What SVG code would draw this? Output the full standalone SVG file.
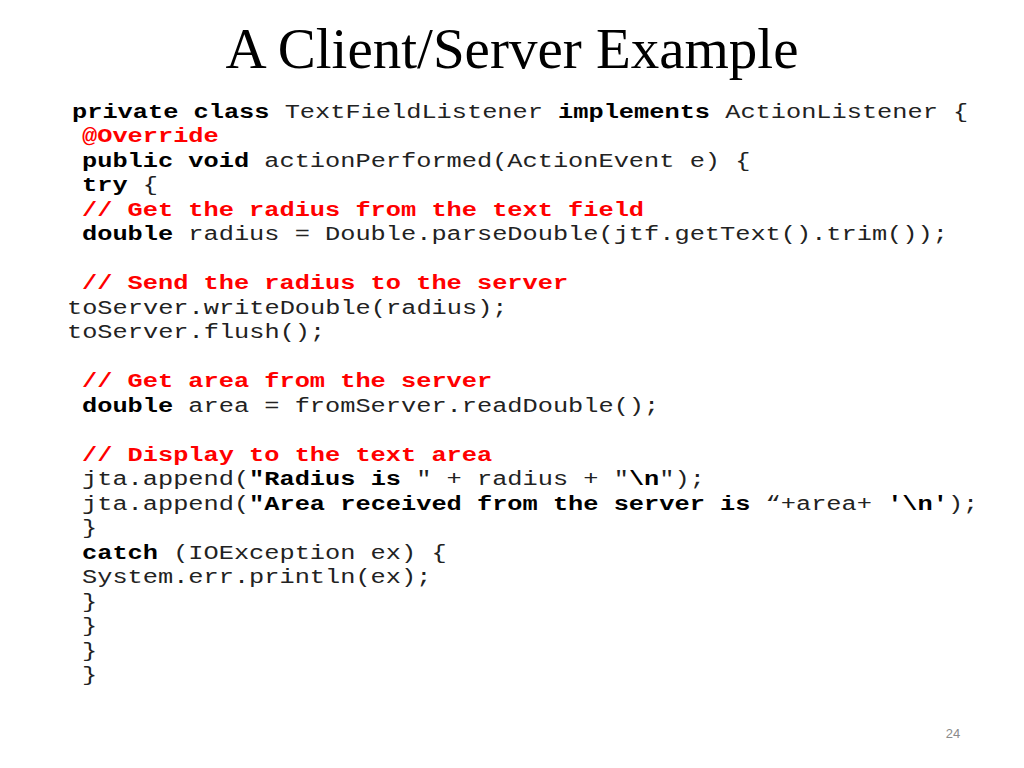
<svg xmlns="http://www.w3.org/2000/svg" width="1024" height="768" viewBox="0 0 1024 768">
<style>
.t{font-family:"Liberation Serif","Times New Roman",serif;font-size:57px;fill:#000}
.c{font-family:"Liberation Mono","Courier New",monospace;font-size:21px;fill:#222;white-space:pre}
.k{font-weight:bold;fill:#000}
.r{font-weight:bold;fill:#ff0000}
.pg{font-family:"Liberation Sans",Arial,sans-serif;font-size:13px;fill:#8a8a8a}
</style>
<rect width="1024" height="768" fill="#fff"/>
<g id="title"><text class="t" x="512" y="68" text-anchor="middle">A Client/Server Example</text></g>
<g id="code" xml:space="preserve" transform="scale(1.2063,1)">
<text class="c" x="59.69" y="118"><tspan class="k">private class</tspan> TextFieldListener <tspan class="k">implements</tspan> ActionListener {</text>
<text class="c" x="67.98" y="142.5"><tspan class="r">@Override</tspan></text>
<text class="c" x="67.98" y="167"><tspan class="k">public void</tspan> actionPerformed(ActionEvent e) {</text>
<text class="c" x="67.98" y="191.5"><tspan class="k">try</tspan> {</text>
<text class="c" x="67.98" y="216"><tspan class="r">// Get the radius from the text field</tspan></text>
<text class="c" x="67.98" y="240.5"><tspan class="k">double</tspan> radius = Double.parseDouble(jtf.getText().trim());</text>
<text class="c" x="67.98" y="289.5"><tspan class="r">// Send the radius to the server</tspan></text>
<text class="c" x="55.54" y="314">toServer.writeDouble(radius);</text>
<text class="c" x="55.54" y="338.5">toServer.flush();</text>
<text class="c" x="67.98" y="387.5"><tspan class="r">// Get area from the server</tspan></text>
<text class="c" x="67.98" y="412"><tspan class="k">double</tspan> area = fromServer.readDouble();</text>
<text class="c" x="67.98" y="461"><tspan class="r">// Display to the text area</tspan></text>
<text class="c" x="67.98" y="485.5">jta.append(<tspan class="k">"Radius is</tspan> " + radius + "<tspan class="k">\n</tspan>");</text>
<text class="c" x="67.98" y="510">jta.append(<tspan class="k">"Area received from the server is</tspan> “+area+ <tspan class="k">'\n'</tspan>);</text>
<text class="c" x="67.98" y="534.5">}</text>
<text class="c" x="67.98" y="559"><tspan class="k">catch</tspan> (IOException ex) {</text>
<text class="c" x="67.98" y="583.5">System.err.println(ex);</text>
<text class="c" x="67.98" y="608">}</text>
<text class="c" x="67.98" y="632.5">}</text>
<text class="c" x="67.98" y="657">}</text>
<text class="c" x="67.98" y="681.5">}</text>
</g>
<g id="page"><text class="pg" x="953" y="738" text-anchor="middle">24</text></g>
</svg>
